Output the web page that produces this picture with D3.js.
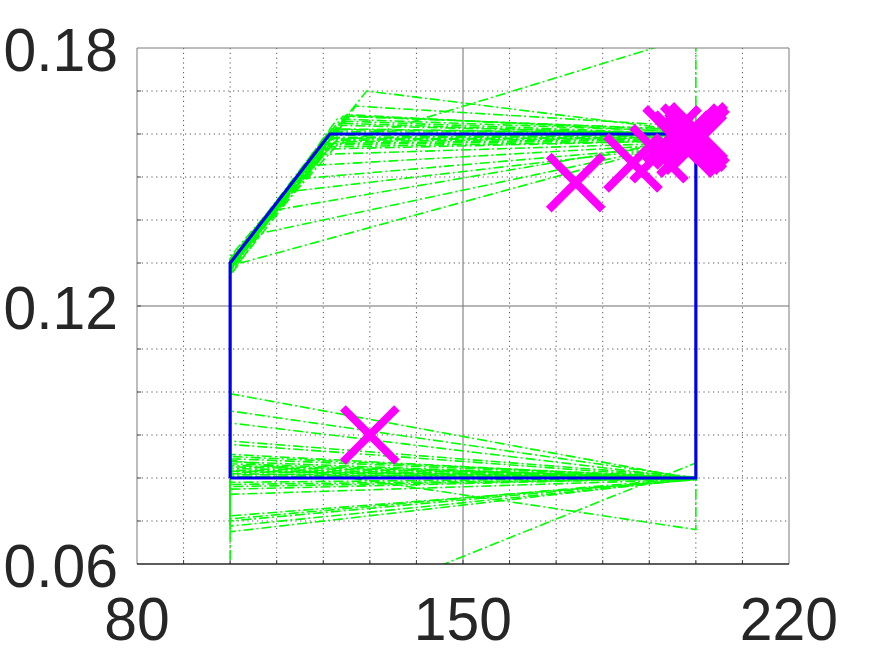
<!DOCTYPE html>
<html><head><meta charset="utf-8">
<script src="https://cdn.jsdelivr.net/npm/d3@7/dist/d3.min.js"></script>
<style>body{margin:0;background:#fff}svg{display:block}</style>
</head><body>
<svg id="chart" width="872" height="654"></svg>
<script>
// ---------- data ----------
const xDomain = [80, 220];
const yDomain = [0.06, 0.18];
const xTickLabels = [80, 150, 220];
const yTickLabels = [0.06, 0.12, 0.18];
const xMinorTicks = [90, 100, 110, 120, 130, 140, 160, 170, 180, 190, 200, 210];
const yMinorTicks = [0.07, 0.08, 0.09, 0.10, 0.11, 0.13, 0.14, 0.15, 0.16, 0.17];

// nominal (blue) polygon
const nominalX = [100, 100, 121.4, 200, 200, 100];
const nominalY = [0.08, 0.13, 0.16, 0.16, 0.08, 0.08];

// perturbed (green) polygons: vertices BL -> TL -> S -> TR -> BR -> BL
const leftEdgeX = 100;
const rightEdgeX = 200;
const greenBottomLeftY = [0.0996,0.0956,0.0928,0.0886,0.0878,0.0850,0.0845,0.0838,0.0829,0.0822,0.0814,0.0808,0.0804,0.0810,0.0818,0.0785,0.0774,0.0762,0.0780,0.0712,0.0700,0.0688,0.0675,0.0842,0.0400,0.0833,0.0826,0.0803,0.0816,0.0855,0.0790,0.0705];
const greenTopLeftY    = [0.1300,0.1295,0.1290,0.1305,0.1285,0.1298,0.1310,0.1280,0.1292,0.1302,0.1288,0.1296,0.1275,0.1308,0.1290,0.1283,0.1300,0.1293,0.1287,0.1305,0.1298,0.1290,0.1290,0.1280,0.1270,0.1300,0.1315,0.1292,0.1285,0.1303,0.1297,0.1289];
const greenSlantX      = [129.3,127.0,123.0,124.2,125.0,125.7,124.5,123.5,122.0,122.5,121.8,123.0,121.5,122.8,120.5,118.0,116.3,114.1,111.8,108.6,107.0,100.5,121.5,121.0,122.0,121.6,124.0,123.2,120.8,121.2,122.2,121.9];
const greenSlantY      = [0.1700,0.1665,0.1635,0.1641,0.1645,0.1642,0.1630,0.1625,0.1590,0.1582,0.1578,0.1575,0.1570,0.1585,0.1565,0.1552,0.1526,0.1495,0.1465,0.1421,0.1370,0.1295,0.1570,0.1600,0.1610,0.1597,0.1620,0.1600,0.1588,0.1605,0.1592,0.1612];
const greenTopRightY   = [0.1605,0.1617,0.1605,0.1610,0.1603,0.1608,0.1600,0.1598,0.1596,0.1592,0.1590,0.1588,0.1585,0.1594,0.1585,0.1580,0.1578,0.1575,0.1575,0.1590,0.1585,0.1590,0.1830,0.1600,0.1602,0.1598,0.1600,0.1596,0.1592,0.1604,0.1599,0.1601];
const greenBottomRightY= [0.0797,0.0800,0.0798,0.0802,0.0799,0.0801,0.0800,0.0798,0.0801,0.0799,0.0802,0.0800,0.0797,0.0799,0.0801,0.0798,0.0800,0.0797,0.0799,0.0796,0.0798,0.0797,0.0799,0.0680,0.0835,0.0800,0.0801,0.0800,0.0799,0.0798,0.0800,0.0801];

// magenta X markers
const markerX = [130.0, 174.2, 186.5, 192.1, 194.9, 197.0, 198.7, 199.6, 200.5, 200.3, 199.2, 197.9, 200.9];
const markerY = [0.0900, 0.1487, 0.1533, 0.1554, 0.1598, 0.1586, 0.1602, 0.1586, 0.1605, 0.1581, 0.1574, 0.1567, 0.1595];

// ---------- drawing ----------
const svg = d3.select('#chart');
const L = 137, R = 789, T = 48, B = 564;
const x = d3.scaleLinear().domain(xDomain).range([L, R]);
const y = d3.scaleLinear().domain(yDomain).range([B, T]);

svg.append('rect').attr('width', 872).attr('height', 654).attr('fill', '#fff');
svg.append('defs').append('clipPath').attr('id', 'clip')
  .append('rect').attr('x', L).attr('y', T).attr('width', R - L).attr('height', B - T);

// minor dotted grid
const grid = svg.append('g');
grid.selectAll('.vx').data(xMinorTicks).join('line')
  .attr('x1', d => x(d)).attr('x2', d => x(d)).attr('y1', T).attr('y2', B)
  .attr('stroke', '#555').attr('stroke-width', 1).attr('stroke-dasharray', '1.2,3.6');
grid.selectAll('.hy').data(yMinorTicks).join('line')
  .attr('y1', d => y(d)).attr('y2', d => y(d)).attr('x1', L).attr('x2', R)
  .attr('stroke', '#555').attr('stroke-width', 1).attr('stroke-dasharray', '1.2,3.6');
// major grid
grid.append('line').attr('x1', x(150)).attr('x2', x(150)).attr('y1', T).attr('y2', B)
  .attr('stroke', '#6e6e6e').attr('stroke-width', 1);
grid.append('line').attr('y1', y(0.12)).attr('y2', y(0.12)).attr('x1', L).attr('x2', R)
  .attr('stroke', '#6e6e6e').attr('stroke-width', 1);

// ticks (inside)
const ticks = svg.append('g').attr('stroke', '#444').attr('stroke-width', 1);
ticks.selectAll('.bt').data(xMinorTicks.concat([150])).join('line')
  .attr('x1', d => x(d)).attr('x2', d => x(d)).attr('y1', B).attr('y2', B - 4);
ticks.selectAll('.lt').data(yMinorTicks.concat([0.12])).join('line')
  .attr('y1', d => y(d)).attr('y2', d => y(d)).attr('x1', L).attr('x2', L + 4);

// green polygons
const line = d3.line().x(d => x(d[0])).y(d => y(d[1]));
const polys = greenBottomLeftY.map((bl, i) => [
  [leftEdgeX, bl],
  [leftEdgeX, greenTopLeftY[i]],
  [greenSlantX[i], greenSlantY[i]],
  [rightEdgeX, greenTopRightY[i]],
  [rightEdgeX, greenBottomRightY[i]],
  [leftEdgeX, bl]
]);
const plot = svg.append('g').attr('clip-path', 'url(#clip)');
plot.selectAll('.g').data(polys).join('path')
  .attr('d', line).attr('fill', 'none')
  .attr('stroke', '#00ff00').attr('stroke-width', 1.6)
  .attr('stroke-dasharray', '10,3,2,3');

// blue nominal polygon
plot.append('path')
  .attr('d', line(nominalX.map((v, i) => [v, nominalY[i]])))
  .attr('fill', 'none').attr('stroke', '#0000f0').attr('stroke-width', 3.2)
  .attr('stroke-linejoin', 'miter');

// magenta markers
const s = 27;
svg.append('g').selectAll('path').data(markerX.map((v, i) => [v, markerY[i]])).join('path')
  .attr('d', d => {
    const cx = x(d[0]), cy = y(d[1]);
    return `M${cx - s},${cy - s}L${cx + s},${cy + s}M${cx - s},${cy + s}L${cx + s},${cy - s}`;
  })
  .attr('stroke', '#ff00ff').attr('stroke-width', 8).attr('fill', 'none')
  .attr('stroke-linecap', 'butt');

// frame
const frame = svg.append('g').attr('fill', 'none');
frame.append('line').attr('x1', L).attr('x2', L).attr('y1', T).attr('y2', B).attr('stroke', '#7a7a7a');
frame.append('line').attr('x1', R).attr('x2', R).attr('y1', T).attr('y2', B).attr('stroke', '#7a7a7a');
frame.append('line').attr('x1', L).attr('x2', R).attr('y1', T).attr('y2', T).attr('stroke', '#7a7a7a');
frame.append('line').attr('x1', L).attr('x2', R).attr('y1', B).attr('y2', B).attr('stroke', '#262626').attr('stroke-width', 1.5);

// tick labels
const fmtY = d3.format('.2f');
const labels = svg.append('g').attr('fill', '#262626')
  .style('font-family', '"Liberation Sans", Arial, Helvetica, sans-serif').style('font-size', '62px');
labels.selectAll('.yl').data(yTickLabels).join('text')
  .attr('transform', d => `translate(118,${y(d) + 23}) scale(0.95,1)`)
  .attr('text-anchor', 'end').text(d => fmtY(d));
labels.selectAll('.xl').data(xTickLabels).join('text')
  .attr('transform', d => `translate(${x(d)},640) scale(0.95,1)`)
  .attr('text-anchor', 'middle').text(d => d);
</script>
</body></html>
